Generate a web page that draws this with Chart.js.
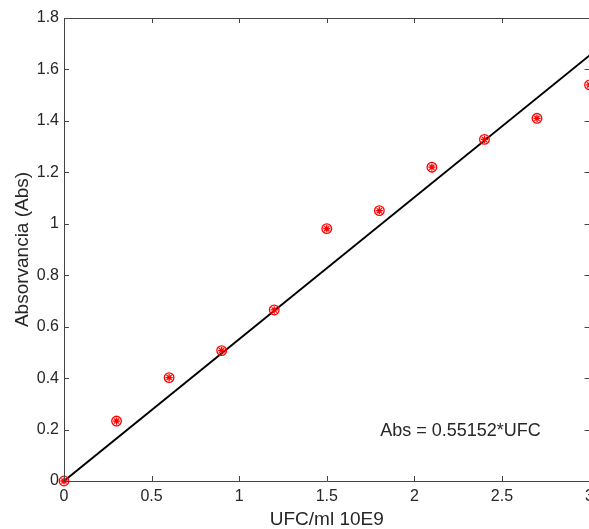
<!DOCTYPE html>
<html>
<head>
<meta charset="utf-8">
<script src="https://cdn.jsdelivr.net/npm/chart.js@4.4.1/dist/chart.umd.min.js"></script>
<style>
  html, body { margin: 0; padding: 0; overflow: hidden; background: #ffffff; }
  #wrap { width: 600px; height: 529px; }
</style>
</head>
<body>
<div id="wrap"><canvas id="c" width="600" height="529"></canvas></div>
<script>
// ---- data ----
const ufcValues = [0, 0.3, 0.6, 0.9, 1.2, 1.5, 1.8, 2.1, 2.4, 2.7, 3.0];
const absValues = [0, 0.233, 0.402, 0.507, 0.665, 0.981, 1.051, 1.22, 1.328, 1.41, 1.54];
const fitX = [0, 3];
const fitY = [0, 1.65456];
const xTickLabels = ['0', '0.5', '1', '1.5', '2', '2.5', '3'];
const yTickLabels = ['0', '0.2', '0.4', '0.6', '0.8', '1', '1.2', '1.4', '1.6', '1.8'];
const xTitle = 'UFC/ml 10E9';
const yTitle = 'Absorvancia (Abs)';
const annotationText = 'Abs = 0.55152*UFC';
const annotationPos = [1.805, 0.195];

const FONT = "'Liberation Sans', Arial, Helvetica, sans-serif";
const AXIS_COLOR = '#444444';
const TEXT_COLOR = '#262626';

const pts = ufcValues.map((x, i) => ({ x: x, y: absValues[i] }));
const fitPts = fitX.map((x, i) => ({ x: x, y: fitY[i] }));

const framePlugin = {
  id: 'frame',
  afterDraw(chart) {
    const { ctx, chartArea: a, scales: { x, y } } = chart;
    ctx.save();
    ctx.strokeStyle = AXIS_COLOR;
    ctx.lineWidth = 1;
    ctx.beginPath();
    ctx.rect(Math.round(a.left) + 0.5, Math.round(a.top) + 0.5,
             Math.round(a.right - a.left), Math.round(a.bottom - a.top));
    const tl = 5;
    x.ticks.forEach(t => {
      const px = Math.round(x.getPixelForValue(t.value)) + 0.5;
      ctx.moveTo(px, a.bottom); ctx.lineTo(px, a.bottom - tl);
      ctx.moveTo(px, a.top); ctx.lineTo(px, a.top + tl);
    });
    y.ticks.forEach(t => {
      const py = Math.round(y.getPixelForValue(t.value)) + 0.5;
      ctx.moveTo(a.left, py); ctx.lineTo(a.left + tl, py);
      ctx.moveTo(a.right, py); ctx.lineTo(a.right - tl, py);
    });
    ctx.stroke();
    // annotation
    ctx.fillStyle = TEXT_COLOR;
    ctx.font = '18px ' + FONT;
    ctx.textAlign = 'left';
    ctx.textBaseline = 'middle';
    ctx.fillText(annotationText, x.getPixelForValue(annotationPos[0]), y.getPixelForValue(annotationPos[1]));
    ctx.restore();
  }
};

new Chart(document.getElementById('c'), {
  type: 'scatter',
  data: {
    datasets: [
      {
        label: 'circles',
        data: pts,
        pointStyle: 'circle',
        pointRadius: 4.8,
        pointBorderWidth: 1.3,
        borderColor: '#ff0000',
        backgroundColor: 'rgba(0,0,0,0)',
        showLine: false,
        clip: false,
        order: 0
      },
      {
        label: 'stars',
        data: pts,
        pointStyle: 'star',
        pointRadius: 3.6,
        pointBorderWidth: 1.3,
        borderColor: '#ff0000',
        backgroundColor: '#ff0000',
        showLine: false,
        clip: false,
        order: 1
      },
      {
        label: 'fit',
        data: fitPts,
        showLine: true,
        borderColor: '#000000',
        borderWidth: 2,
        pointRadius: 0,
        fill: false,
        order: 2
      }
    ]
  },
  options: {
    responsive: false,
    animation: false,
    devicePixelRatio: 1,
    layout: { padding: { top: 18, right: 8, left: 0, bottom: 0 } },
    plugins: { legend: { display: false }, tooltip: { enabled: false } },
    scales: {
      x: {
        type: 'linear',
        min: 0, max: 3,
        afterBuildTicks(s) { s.ticks = xTickLabels.map((l, i) => ({ value: i * 0.5 })); },
        afterFit(s) { s.height = 48; },
        ticks: {
          padding: 6,
          color: TEXT_COLOR,
          font: { family: FONT, size: 16 },
          maxRotation: 0,
          autoSkip: false,
          callback: (v, i) => xTickLabels[i]
        },
        grid: { display: false, drawTicks: false },
        border: { display: false },
        title: {
          display: true, text: xTitle, color: TEXT_COLOR,
          font: { family: FONT, size: 19 },
          padding: { top: 0, bottom: -2 }
        }
      },
      y: {
        type: 'linear',
        min: 0, max: 1.8,
        afterBuildTicks(s) { s.ticks = yTickLabels.map((l, i) => ({ value: i * 0.2 })); },
        afterFit(s) { s.width = 64; },
        ticks: {
          padding: 5,
          color: TEXT_COLOR,
          font: { family: FONT, size: 16 },
          autoSkip: false,
          callback: (v, i) => yTickLabels[i]
        },
        grid: { display: false, drawTicks: false },
        border: { display: false },
        title: {
          display: true, text: yTitle, color: TEXT_COLOR,
          font: { family: FONT, size: 19 },
          padding: { top: 11, bottom: 0 }
        }
      }
    }
  },
  plugins: [framePlugin]
});
</script>
</body>
</html>
